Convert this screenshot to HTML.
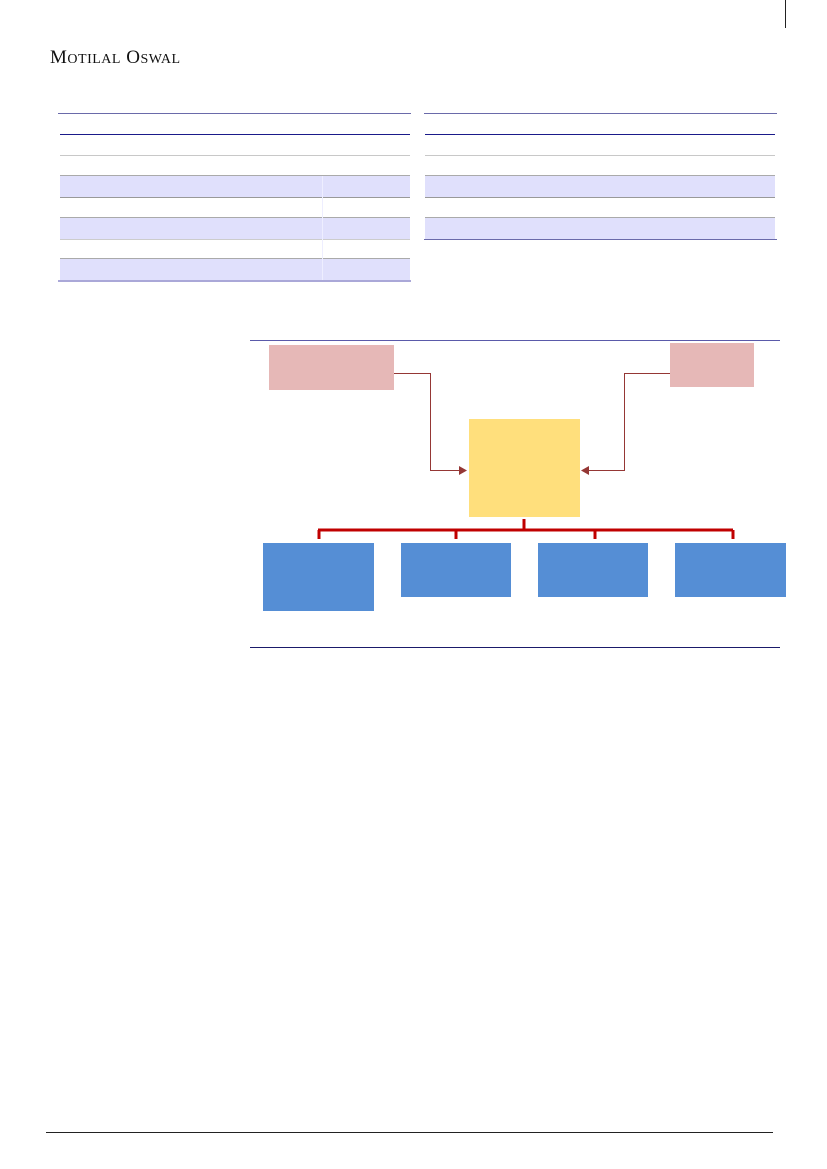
<!DOCTYPE html>
<html><head><meta charset="utf-8"><style>
body{margin:0;width:827px;height:1169px;background:#fff;position:relative;overflow:hidden;font-family:"Liberation Serif",serif}
.a{position:absolute}
</style></head><body>
<div class="a" style="left:785px;top:0;width:1px;height:28px;background:#222"></div>
<div class="a" style="left:50px;top:47px;font-size:19px;color:#111;letter-spacing:0.5px">M<span style="font-size:14px">OTILAL</span> O<span style="font-size:14px">SWAL</span></div>

<!-- left table -->
<div class="a" style="left:58px;top:113px;width:353px;height:1px;background:#6a6aaa"></div>
<div class="a" style="left:60px;top:134px;width:350px;height:1px;background:#1a1a8a"></div>
<div class="a" style="left:60px;top:155px;width:350px;height:1px;background:#c8c8c8"></div>
<div class="a" style="left:60px;top:175px;width:350px;height:21px;background:#e0e0fc;border-top:1px solid #aaa;border-bottom:1px solid #999"></div>
<div class="a" style="left:60px;top:217px;width:350px;height:21px;background:#e0e0fc;border-top:1px solid #aaa;border-bottom:1px solid #ccc"></div>
<div class="a" style="left:60px;top:258px;width:350px;height:21px;background:#e0e0fc;border-top:1px solid #aaa"></div>
<div class="a" style="left:58px;top:280px;width:353px;height:2px;background:#aaa8d8"></div>
<div class="a" style="left:322px;top:176px;width:1px;height:104px;background:#eef"></div>

<!-- right table -->
<div class="a" style="left:424px;top:113px;width:353px;height:1px;background:#6a6aaa"></div>
<div class="a" style="left:425px;top:134px;width:350px;height:1px;background:#1a1a8a"></div>
<div class="a" style="left:425px;top:155px;width:350px;height:1px;background:#c8c8c8"></div>
<div class="a" style="left:425px;top:175px;width:350px;height:21px;background:#e0e0fc;border-top:1px solid #aaa;border-bottom:1px solid #999"></div>
<div class="a" style="left:425px;top:217px;width:350px;height:21px;background:#e0e0fc;border-top:1px solid #aaa"></div>
<div class="a" style="left:424px;top:239px;width:353px;height:1px;background:#6a6aaa"></div>

<!-- diagram frame lines -->
<div class="a" style="left:250px;top:340px;width:530px;height:1px;background:#5a5aaa"></div>
<div class="a" style="left:250px;top:647px;width:530px;height:1px;background:#1a1a6a"></div>

<svg class="a" style="left:0;top:0" width="827" height="1169">
<rect x="269" y="345" width="125" height="45" fill="#e6b8b7"/>
<rect x="670" y="343" width="84" height="44" fill="#e6b8b7"/>
<rect x="469" y="419" width="111" height="98" fill="#ffdf7c"/>
<rect x="263" y="543" width="111" height="68" fill="#558ed5"/>
<rect x="401" y="543" width="110" height="54" fill="#558ed5"/>
<rect x="538" y="543" width="110" height="54" fill="#558ed5"/>
<rect x="675" y="543" width="111" height="54" fill="#558ed5"/>
<polyline points="394,373.5 430.5,373.5 430.5,470.5 460,470.5" fill="none" stroke="#953735" stroke-width="1"/>
<polygon points="459,466 467,470.5 459,475" fill="#953735"/>
<polyline points="670,373.5 624.5,373.5 624.5,470.5 589,470.5" fill="none" stroke="#953735" stroke-width="1"/>
<polygon points="589,466 581,470.5 589,475" fill="#953735"/>
<g stroke="#c00000" stroke-width="3" fill="none">
<line x1="524" y1="519" x2="524" y2="531"/>
<line x1="318" y1="530" x2="733" y2="530"/>
<line x1="319" y1="530" x2="319" y2="539"/>
<line x1="456" y1="530" x2="456" y2="539"/>
<line x1="595" y1="530" x2="595" y2="539"/>
<line x1="733" y1="530" x2="733" y2="539"/>
</g>
</svg>

<div class="a" style="left:46px;top:1132px;width:727px;height:1px;background:#222"></div>
</body></html>
